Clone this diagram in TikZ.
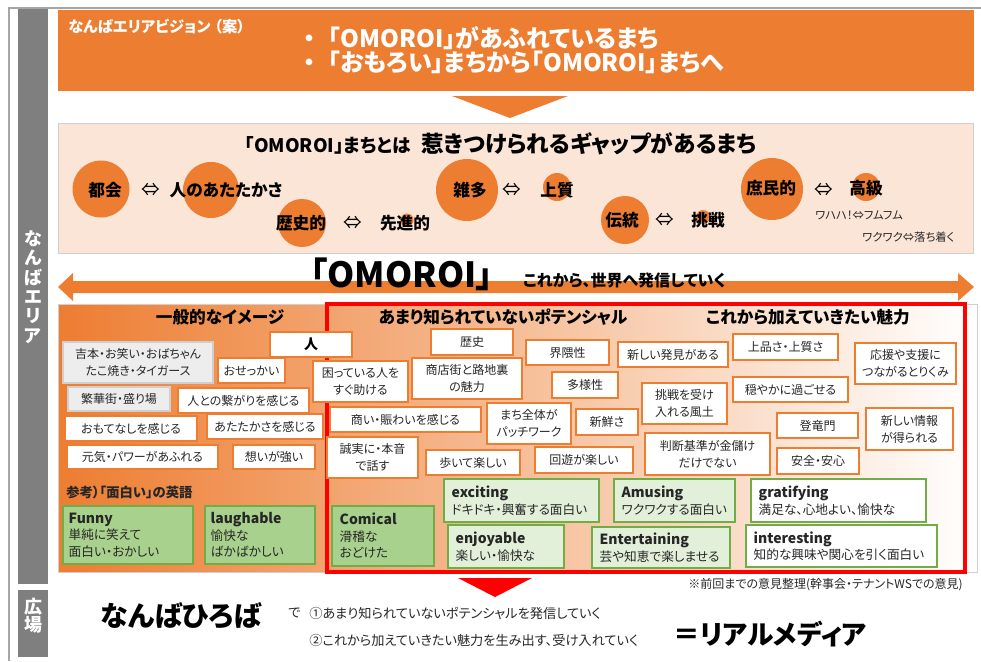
\documentclass[tikz,border=0pt]{standalone}
\usepackage{fontspec}
\setmainfont{Noto Sans CJK JP}[RawFeature=+palt]
\usetikzlibrary{calc}
\definecolor{ora}{HTML}{ED7D31}
\definecolor{peach}{HTML}{FBE5D6}
\definecolor{barg}{HTML}{7F7F7F}
\definecolor{frameg}{HTML}{A6A6A6}
\definecolor{lgray}{HTML}{EDEDED}
\definecolor{lgrayb}{HTML}{D0CECE}
\definecolor{gdark}{HTML}{A9D18E}
\definecolor{glight}{HTML}{E2F0D9}
\definecolor{gborder}{HTML}{70AD47}
\definecolor{txt}{HTML}{262626}
\definecolor{redb}{HTML}{FF0000}
\newcommand{\fsz}[2]{\fontsize{#1}{#2}\selectfont}
\newcommand{\mybox}[7][obox]{\node[#1, minimum width={(#5-#3)*0.75pt}, minimum height={(#6-#4)*0.75pt}] (#2) at ({(#3+#5)/2},{(#4+#6)/2}) {#7};}
\newcommand{\mycirc}[4]{\node[circ, minimum size={2*#4*0.75pt}] (#1) at (#2,#3) {};}
\newcommand{\gtext}[4][8]{\node[gtx, anchor=west] (#2-t) at ($(#2.west)+(#1,0)$) {{\bfseries\fsz{10.5}{12.4}#3}\\#4};}
\begin{document}
\begin{tikzpicture}[x=0.75pt,y=-0.75pt,
  obox/.style={rectangle, draw=ora, line width=0.9pt, fill=white, text=txt, font=\fsz{9}{12.75}, align=center, inner sep=0pt},
  graybox/.style={obox, draw=lgrayb, fill=lgray},
  gdbox/.style={rectangle, draw=gborder, line width=0.9pt, fill=gdark, inner sep=0pt},
  glbox/.style={gdbox, fill=glight},
  gwbox/.style={gdbox, fill=white},
  gtx/.style={align=left, inner sep=0pt, text=txt, font=\fsz{9.5}{12.4}},
  banner/.style={rectangle, fill=ora, inner sep=0pt},
  peachbox/.style={rectangle, fill=peach, draw=lgrayb, line width=0.75pt, inner sep=0pt},
  gradbox/.style={rectangle, left color=ora, right color=white, draw=lgrayb, line width=0.75pt, inner sep=0pt},
  redframe/.style={rectangle, draw=redb, line width=2.4pt, inner sep=0pt},
  vbar/.style={rectangle, fill=barg, inner sep=0pt},
  vtext/.style={text=white, align=center, inner sep=0pt, font=\bfseries\fsz{13.5}{14.5}},
  circ/.style={circle, fill=ora, inner sep=0pt},
  clbl/.style={inner sep=0pt, text=black, font=\bfseries\fsz{12.5}{15}},
  arr/.style={inner sep=0pt, text=black, font=\fsz{14}{15}},
  note/.style={inner sep=0pt, text=txt, font=\fsz{8.5}{10}},
  head/.style={inner sep=0pt, text=black, font=\bfseries\fsz{12.5}{15}},
  wtitle/.style={inner sep=0pt, text=white, font=\bfseries\fsz{11.5}{13}},
  wbullet/.style={inner sep=0pt, text=white, font=\bfseries\fsz{18}{20}},
]
\useasboundingbox (0,0) rectangle (981,661);
% outer frame
\coordinate (fbl) at (9,661);
\coordinate (ftl) at (9,8);
\coordinate (ftr) at (981,8);
\draw[frameg, line width=1.1pt] (fbl) -- (ftl) -- (ftr);
% side bars
\mybox[vbar]{bar1}{18}{9}{48}{584}{}
\mybox[vbar]{bar2}{18}{590}{48}{657}{}
\node[vtext] (vt1) at (33,287) {な\\ん\\ば\\エ\\リ\\ア};
\node[vtext, font=\bfseries\fsz{13.5}{13.5}] (vt2) at (33,616) {広\\場};
% banner
\mybox[banner]{ban}{58}{10}{974}{91}{}
\node[wtitle, anchor=west] (bant) at (68,27) {なんばエリアビジョン\hspace{0.25em}（案）};
\node[wbullet, anchor=west] (b1) at (303,38) {・\hspace{0.55em}「OMOROI」があふれているまち};
\node[wbullet, anchor=west] (b2) at (303,62) {・\hspace{0.55em}「おもろい」まちから「OMOROI」まちへ};
\fill[ora] (452,96) -- (568,96) -- (510,118) -- cycle;
% peach box
\mybox[peachbox]{pch}{58}{123}{973}{253}{}
\node[inner sep=0pt, font=\bfseries\fsz{14}{16}, anchor=east] (pt1) at (411,145) {「OMOROI」まちとは};
\node[inner sep=0pt, font=\bfseries\fsz{17}{19}] (pt2) at (589,144) {惹きつけられるギャップがあるまち};
\mycirc{c1}{101}{189}{28.5}
\mycirc{c2}{211}{190}{28}
\mycirc{c3}{302}{223}{24}
\mycirc{c4}{407}{220}{6.5}
\mycirc{c5}{467}{190}{31}
\mycirc{c6}{557}{187}{14}
\mycirc{c7}{625}{220}{24}
\mycirc{c8}{703}{217}{7}
\mycirc{c9}{772}{189}{31}
\mycirc{c10}{866}{187}{14}
\node[clbl] (l1) at (105,190) {都会};
\node[arr] (a1) at (151,190) {⇔};
\node[clbl] (l2) at (226,190) {人のあたたかさ};
\node[clbl] (l3) at (301,223) {歴史的};
\node[arr] (a2) at (353,223) {⇔};
\node[clbl] (l4) at (405,223) {先進的};
\node[clbl] (l5) at (470,190) {雑多};
\node[arr] (a3) at (512,190) {⇔};
\node[clbl] (l6) at (557,190) {上質};
\node[clbl] (l7) at (622,220) {伝統};
\node[arr] (a4) at (665,220) {⇔};
\node[clbl] (l8) at (708,220) {挑戦};
\node[clbl] (l9) at (771,188) {庶民的};
\node[arr] (a5) at (824,190) {⇔};
\node[clbl] (l10) at (866,188) {高級};
\node[note, anchor=west] (n1) at (815,215) {ワハハ！⇔フムフム};
\node[note, anchor=west] (n2) at (862,237) {ワクワク⇔落ち着く};
% double arrow
\fill[ora] (58,287) -- (73,273) -- (73,281) -- (958,281) -- (958,273) -- (974,287) -- (958,301) -- (958,293) -- (73,293) -- (73,301) -- cycle;
\node[inner sep=0pt, font=\bfseries\fsz{26}{28}] (omo) at (402,274) {「OMOROI」};
\node[inner sep=0pt, font=\bfseries\fsz{12}{14}, anchor=west] (hs) at (523,280) {これから、世界へ発信していく};
% gradient area
\mybox[gradbox]{grd}{58}{304}{977}{572}{}
\mybox[redframe]{rf}{327}{304}{965}{572}{}
\node[head] (h1) at (220,317) {一般的なイメージ};
\node[head] (h2) at (503,317) {あまり知られていないポテンシャル};
\node[head] (h3) at (808,317) {これから加えていきたい魅力};
% left boxes
\mybox[graybox]{k1}{63}{342}{213}{383}{吉本・お笑い・おばちゃん\\たこ焼き・タイガース}
\mybox{k2}{218}{358}{285}{383}{おせっかい}
\mybox[obox, font=\bfseries\fsz{10.5}{12}, text=black]{k3}{270}{332}{352}{357}{人}
\mybox[graybox]{k4}{68}{387}{170}{411}{繁華街・盛り場}
\mybox{k5}{178}{388}{309}{413}{人との繋がりを感じる}
\mybox{k6}{65}{416}{197}{441}{おもてなしを感じる}
\mybox{k7}{207}{414}{323}{439}{あたたかさを感じる}
\mybox{k8}{67}{445}{218}{469}{元気・パワーがあふれる}
\mybox{k9}{233}{445}{315}{469}{想いが強い}
\node[inner sep=0pt, anchor=west, font=\bfseries\fsz{10}{12}, text=txt] (ref) at (66,492) {参考）「面白い」の英語};
% middle boxes
\mybox{m1}{431}{329}{513}{355}{歴史}
\mybox{m2}{526}{340}{609}{365}{界隈性}
\mybox{m3}{618}{342}{728}{367}{新しい発見がある}
\mybox{m4}{313}{361}{408}{402}{困っている人を\\すぐ助ける}
\mybox{m5}{412}{358}{522}{399}{商店街と路地裏\\の魅力}
\mybox{m6}{552}{372}{618}{398}{多様性}
\mybox{m7}{330}{407}{481}{432}{商い・賑わいを感じる}
\mybox{m8}{487}{403}{571}{444}{まち全体が\\パッチワーク}
\mybox{m9}{576}{409}{638}{435}{新鮮さ}
\mybox{m10}{327}{437}{418}{478}{誠実に・本音\\で話す}
\mybox{m11}{426}{450}{520}{475}{歩いて楽しい}
\mybox{m12}{535}{447}{633}{473}{回遊が楽しい}
% right boxes
\mybox{r1}{733}{334}{838}{360}{上品さ・上質さ}
\mybox{r2}{855}{343}{956}{384}{応援や支援に\\つながるとりくみ}
\mybox{r3}{642}{383}{727}{424}{挑戦を受け\\入れる風土}
\mybox{r4}{733}{377}{848}{402}{穏やかに過ごせる}
\mybox{r5}{777}{413}{858}{438}{登竜門}
\mybox{r6}{866}{408}{953}{450}{新しい情報\\が得られる}
\mybox{r7}{645}{433}{770}{475}{判断基準が金儲け\\だけでない}
\mybox{r8}{777}{448}{859}{474}{安全・安心}
% green boxes
\mybox[gdbox]{funny}{63}{506}{193}{564}{}
\gtext[6]{funny}{Funny}{単純に笑えて\\面白い・おかしい}
\mybox[gdbox]{laugh}{205}{506}{315}{564}{}
\gtext[6]{laugh}{laughable}{愉快な\\ばかばかしい}
\mybox[gdbox]{comic}{332}{506}{434}{566}{}
\gtext{comic}{Comical}{滑稽な\\おどけた}
\mybox[glbox]{excit}{444}{479}{599}{522}{}
\gtext{excit}{exciting}{ドキドキ・興奮する面白い}
\mybox[glbox]{amus}{614}{479}{735}{522}{}
\gtext{amus}{Amusing}{ワクワクする面白い}
\mybox[gwbox]{grat}{751}{479}{926}{522}{}
\gtext{grat}{gratifying}{満足な、心地よい、愉快な}
\mybox[glbox]{enjoy}{448}{525}{564}{568}{}
\gtext{enjoy}{enjoyable}{楽しい・愉快な}
\mybox[glbox]{enter}{592}{527}{730}{568}{}
\gtext{enter}{Entertaining}{芸や知恵で楽しませる}
\mybox[gwbox]{inter}{746}{525}{937}{567}{}
\gtext{inter}{interesting}{知的な興味や関心を引く面白い}
% bottom
\fill[redb] (458,578) -- (532,578) -- (495,597) -- cycle;
\node[note, anchor=east, font=\fsz{9}{10}] (memo) at (963,585) {※前回までの意見整理(幹事会・テナントWSでの意見)};
\node[inner sep=0pt, font=\bfseries\fsz{21}{24}, text=black] (hiroba) at (181,616) {なんばひろば};
\node[inner sep=0pt, font=\fsz{9.9}{12}, text=txt, anchor=west] (de) at (288,613) {で};
\node[inner sep=0pt, font=\fsz{9.9}{12}, text=txt, anchor=west] (p1) at (309,613) {①あまり知られていないポテンシャルを発信していく};
\node[inner sep=0pt, font=\fsz{9.9}{12}, text=txt, anchor=west] (p2) at (309,640) {②これから加えていきたい魅力を生み出す、受け入れていく};
\node[inner sep=0pt, font=\bfseries\fsz{20}{24}, text=black] (media) at (770,634) {＝リアルメディア};
\end{tikzpicture}
\end{document}
